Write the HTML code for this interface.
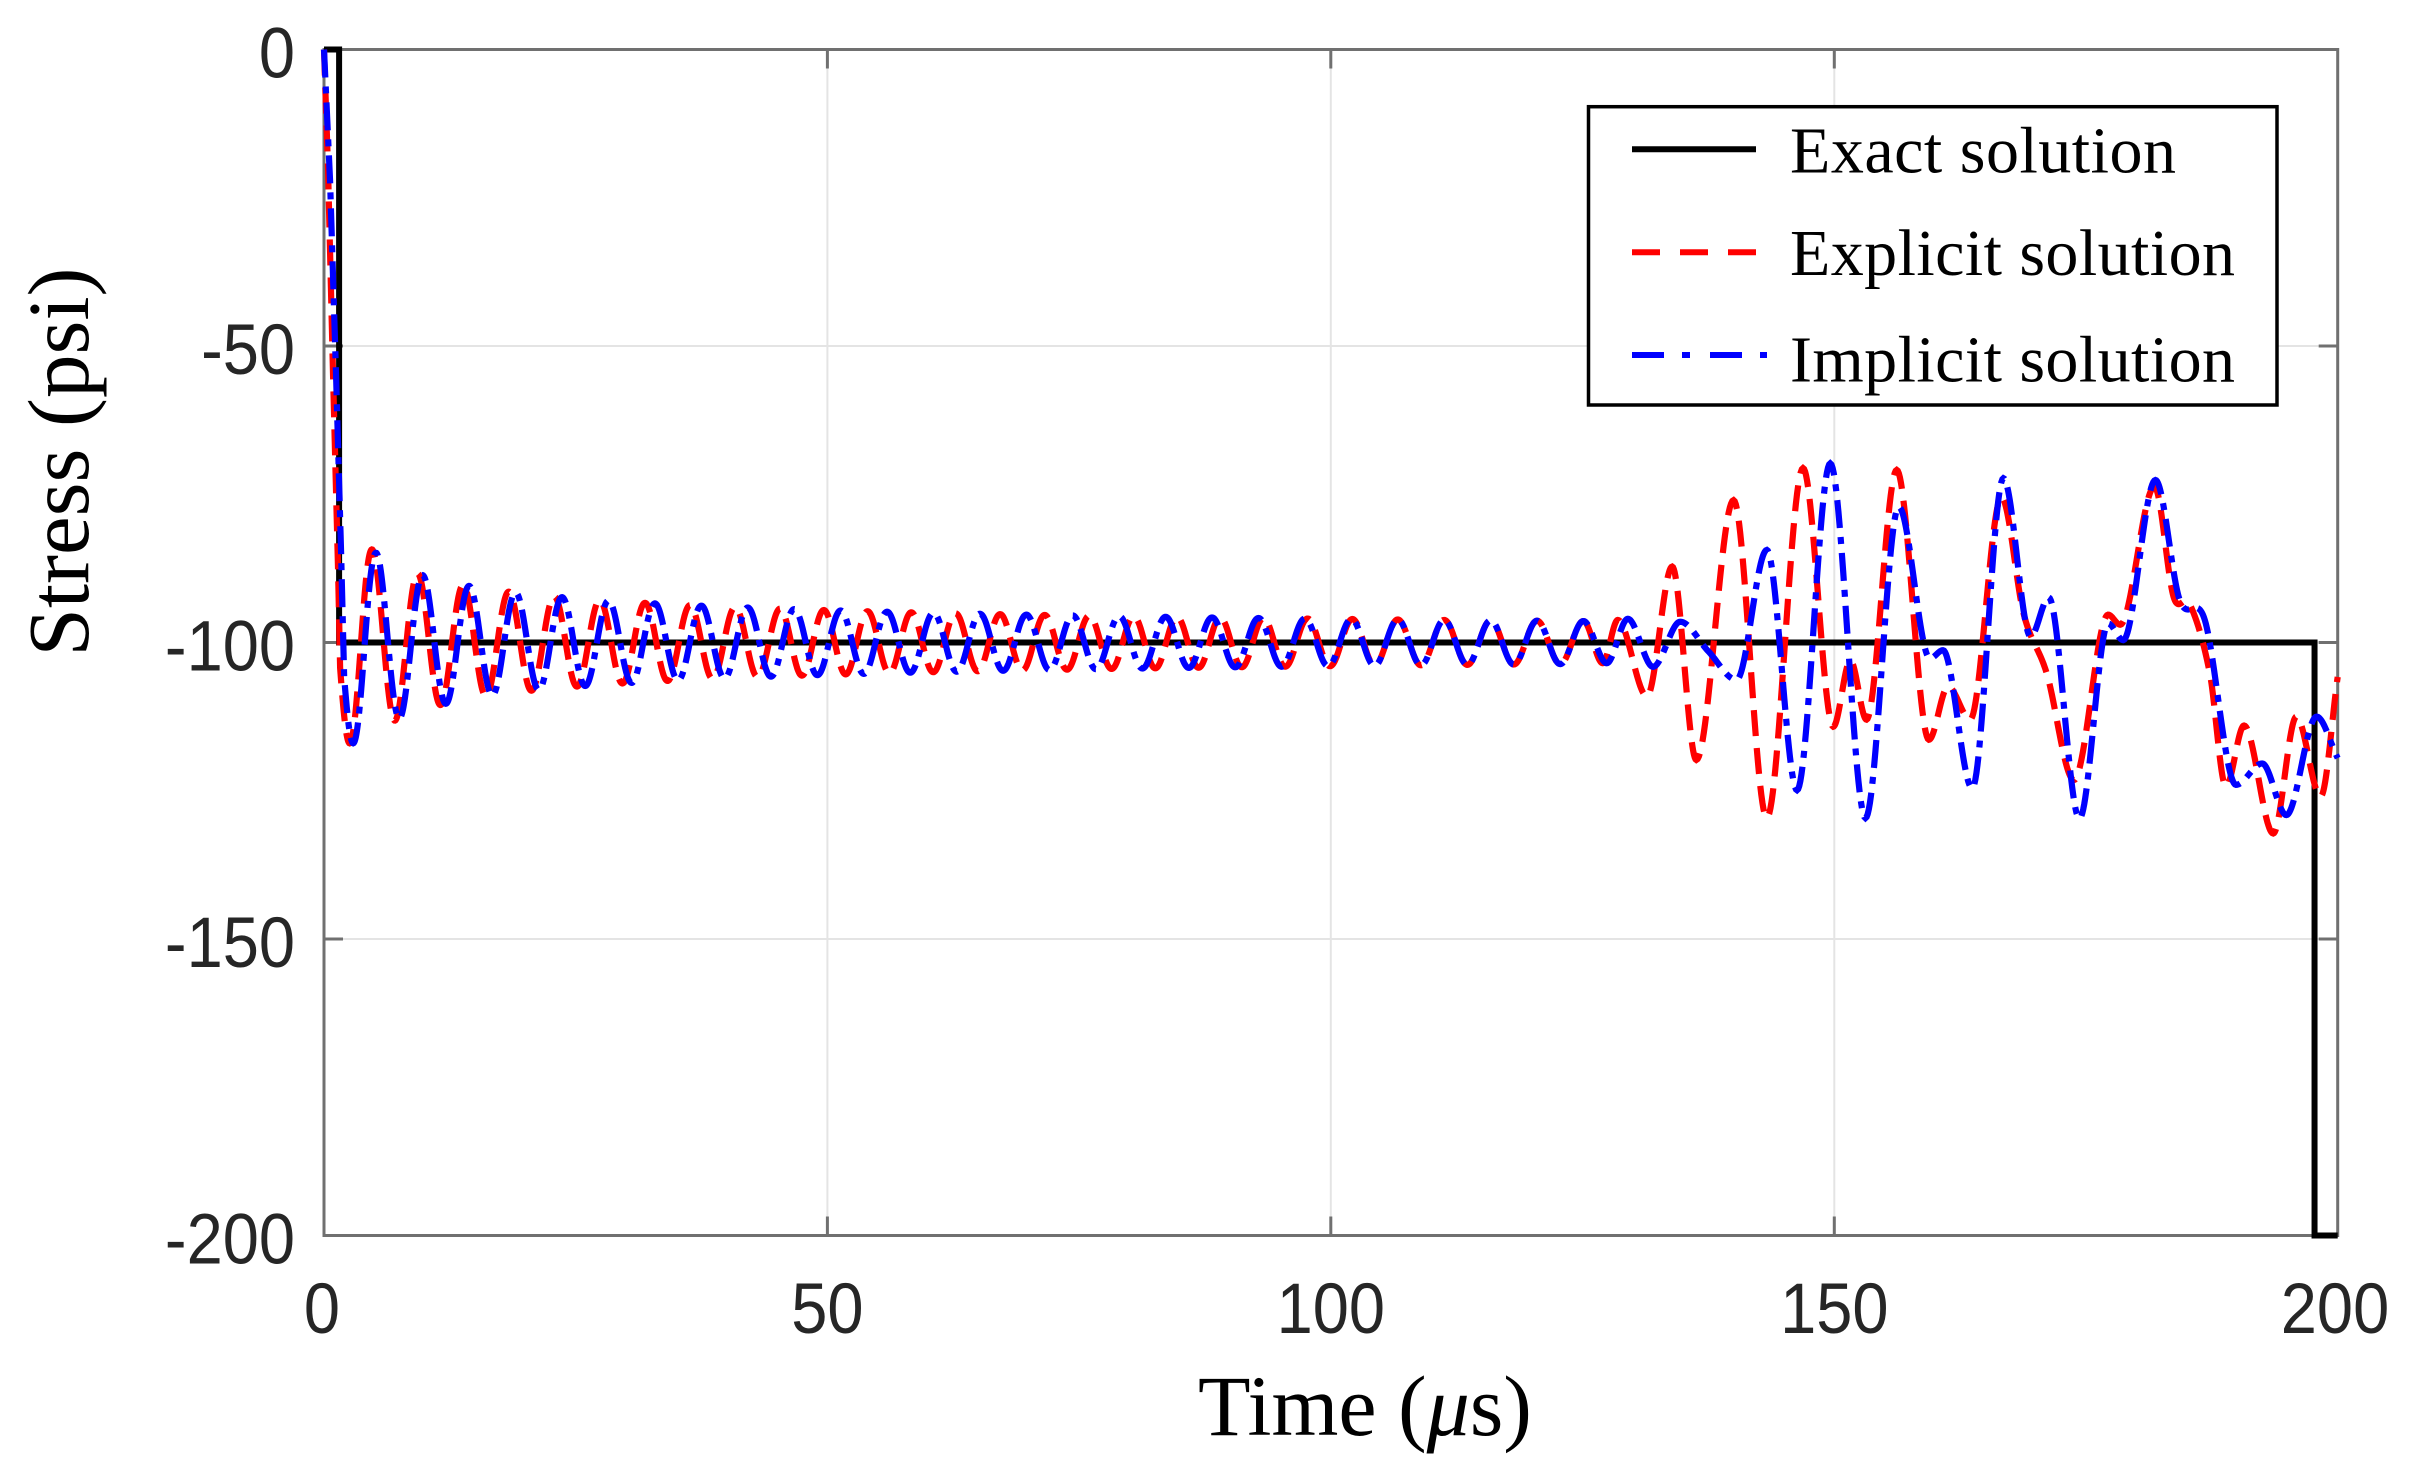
<!DOCTYPE html>
<html>
<head>
<meta charset="utf-8">
<style>
html,body{margin:0;padding:0;background:#fff;}
svg{display:block;}
</style>
</head>
<body>
<svg id="chart" width="2409" height="1476" viewBox="0 0 2409 1476" xmlns="http://www.w3.org/2000/svg">
<rect x="0" y="0" width="2409" height="1476" fill="#ffffff"/>
<!-- grid -->
<g stroke="#e4e4e4" stroke-width="2" fill="none">
  <line x1="827.4" y1="49.5" x2="827.4" y2="1235.5"/>
  <line x1="1330.8" y1="49.5" x2="1330.8" y2="1235.5"/>
  <line x1="1834.3" y1="49.5" x2="1834.3" y2="1235.5"/>
  <line x1="324" y1="346" x2="2337.7" y2="346"/>
  <line x1="324" y1="642.5" x2="2337.7" y2="642.5"/>
  <line x1="324" y1="939" x2="2337.7" y2="939"/>
</g>
<!-- axes box -->
<rect x="324" y="49.5" width="2013.7" height="1186" fill="none" stroke="#707070" stroke-width="3"/>
<!-- ticks -->
<g stroke="#707070" stroke-width="3">
  <line x1="827.4" y1="1235.5" x2="827.4" y2="1216.5"/>
  <line x1="1330.8" y1="1235.5" x2="1330.8" y2="1216.5"/>
  <line x1="1834.3" y1="1235.5" x2="1834.3" y2="1216.5"/>
  <line x1="827.4" y1="49.5" x2="827.4" y2="68.5"/>
  <line x1="1330.8" y1="49.5" x2="1330.8" y2="68.5"/>
  <line x1="1834.3" y1="49.5" x2="1834.3" y2="68.5"/>
  <line x1="324" y1="346" x2="343" y2="346"/>
  <line x1="324" y1="642.5" x2="343" y2="642.5"/>
  <line x1="324" y1="939" x2="343" y2="939"/>
  <line x1="2337.7" y1="346" x2="2318.7" y2="346"/>
  <line x1="2337.7" y1="642.5" x2="2318.7" y2="642.5"/>
  <line x1="2337.7" y1="939" x2="2318.7" y2="939"/>
</g>
<!-- tick labels -->
<g font-family="'Liberation Sans', Arial, sans-serif" font-size="65" fill="#262626">
  <text text-anchor="end" transform="translate(295,77.5) scale(1,1.1)">0</text>
  <text text-anchor="end" transform="translate(295,374) scale(1,1.1)">-50</text>
  <text text-anchor="end" transform="translate(295,670.5) scale(1,1.1)">-100</text>
  <text text-anchor="end" transform="translate(295,967) scale(1,1.1)">-150</text>
  <text text-anchor="end" transform="translate(295,1263.5) scale(1,1.1)">-200</text>
  <text text-anchor="middle" transform="translate(322,1333) scale(1,1.1)">0</text>
  <text text-anchor="middle" transform="translate(827.4,1333) scale(1,1.1)">50</text>
  <text text-anchor="middle" transform="translate(1330.8,1333) scale(1,1.1)">100</text>
  <text text-anchor="middle" transform="translate(1834.3,1333) scale(1,1.1)">150</text>
  <text text-anchor="middle" transform="translate(2335,1333) scale(1,1.1)">200</text>
</g>
<!-- axis labels -->
<text font-family="'Liberation Serif', 'Times New Roman', serif" font-size="87" fill="#000" text-anchor="middle" transform="translate(88,462) rotate(-90)">Stress (psi)</text>
<text font-family="'Liberation Serif', 'Times New Roman', serif" font-size="86" fill="#000" text-anchor="middle" x="1365" y="1435">Time (<tspan font-style="italic">μ</tspan>s)</text>

<!-- data -->
<path id="exact" fill="none" stroke="#000" stroke-width="6" stroke-linejoin="miter" d=""/>
<path id="red" fill="none" stroke="#ff0000" stroke-width="6.2" stroke-dasharray="26 12" d=""/>
<path id="blue" fill="none" stroke="#0000ff" stroke-width="6.2" stroke-dasharray="28 9 7 9" d=""/>

<!-- legend -->
<rect x="1588.5" y="106.7" width="688.5" height="298.3" fill="#fff" stroke="#000" stroke-width="3.5"/>
<line x1="1632" y1="149.3" x2="1756" y2="149.3" stroke="#000" stroke-width="6"/>
<line x1="1632" y1="252.3" x2="1758" y2="252.3" stroke="#ff0000" stroke-width="6" stroke-dasharray="28 20"/>
<line x1="1632" y1="355" x2="1767" y2="355" stroke="#0000ff" stroke-width="6" stroke-dasharray="32 18 8 20"/>
<g font-family="'Liberation Serif', 'Times New Roman', serif" font-size="66" fill="#000">
  <text x="1790" y="172.7" textLength="386" lengthAdjust="spacing">Exact solution</text>
  <text x="1790" y="275" textLength="445" lengthAdjust="spacing">Explicit solution</text>
  <text x="1790" y="381.7" textLength="445" lengthAdjust="spacing">Implicit solution</text>
</g>
</svg>
<script>
(function(){
  var X=function(t){return 324+t*10.0685;};
  var Y=function(s){return 49.5-s*5.93;};
  var P=4.611;
  function A(t){var tt=Math.max(t,4);return 17*Math.pow(tt/4,-0.45);}
  function blueF(t){return -100-A(t)*Math.cos(2*Math.PI*(t-2.9)/P);}
  var dT=[[0,0.065],[30,0.2],[45,0.3],[60,0.5],[80,0.68],[95,0.92],[105,1.0],[200,1.0]];
  function interp(tab,t){
    for(var i=0;i<tab.length-1;i++){
      if(t<=tab[i+1][0]){var f=(t-tab[i][0])/(tab[i+1][0]-tab[i][0]);return tab[i][1]+f*(tab[i+1][1]-tab[i][1]);}
    }
    return tab[tab.length-1][1];
  }
  function redF(t){return -100-A(t)*Math.cos(2*Math.PI*((t-2.9)/P+interp(dT,t)));}
  function herm(pts,n){
    var out=[],N=pts.length,m=[];
    for(var i=0;i<N;i++){
      if(i===0||i===N-1){
        if(i===N-1){m.push((pts[i][1]-pts[i-1][1])/(pts[i][0]-pts[i-1][0]));}
        else m.push(0);
        continue;
      }
      var a=pts[i-1][1],b=pts[i][1],c=pts[i+1][1];
      if((b>a&&b>c)||(b<a&&b<c)) m.push(0);
      else m.push((c-a)/(pts[i+1][0]-pts[i-1][0]));
    }
    for(var i=0;i<N-1;i++){
      var t1=pts[i][0],t2=pts[i+1][0],s1=pts[i][1],s2=pts[i+1][1],h=t2-t1;
      for(var k=(i===0?0:1);k<=n;k++){
        var u=k/n,u2=u*u,u3=u2*u;
        var h00=2*u3-3*u2+1,h10=u3-2*u2+u,h01=-2*u3+3*u2,h11=u3-u2;
        out.push([t1+u*h,h00*s1+h10*h*m[i]+h01*s2+h11*h*m[i+1]]);
      }
    }
    return out;
  }
  function toPath(arr){
    var d='';
    for(var i=0;i<arr.length;i++){
      d+=(i===0?'M':'L')+X(arr[i][0]).toFixed(2)+','+Y(arr[i][1]).toFixed(2);
    }
    return d;
  }
  // blue
  var b=[[0,0],[0.6,-22],[1.2,-55],[1.7,-85]];
  for(var t=2.0;t<125.1;t+=0.05){b.push([t,blueF(t)]);}
  var bt=[[125.1,blueF(125.1)],[127.4,-103.5],[129.5,-96],[132.0,-104.1],[134.7,-96.5],[137.5,-101.5],[140.3,-106.3],[143.3,-84.4],[146.3,-124.9],[149.6,-69.8],[153.1,-129.6],[156.4,-77.1],[159.5,-102.7],[160.8,-101.3],[163.7,-124.6],[166.8,-72.3],[169.5,-99.0],[171.3,-92.4],[174.35,-129.7],[177.2,-96.8],[178.7,-99.6],[181.9,-72.6],[184.3,-92.8],[186.8,-96.2],[189.9,-124],[192.5,-120.4],[194.9,-129.1],[197.9,-112.5],[200,-119.5]];
  b=b.concat(herm(bt,30));
  // red
  var r=[[0,0],[0.4,-20],[0.9,-55],[1.4,-88]];
  for(var t=1.6;t<125.1;t+=0.05){r.push([t,redF(t)]);}
  var rt=[[125.1,redF(125.1)],[127.0,-103.5],[128.5,-96.2],[131.4,-109.1],[133.9,-87.2],[136.3,-119.8],[140.0,-76.0],[143.3,-129.6],[146.9,-70.6],[149.9,-114.2],[151.6,-103],[153.2,-113],[156.2,-70.9],[159.4,-116.4],[161.3,-107.4],[163.5,-113],[166.6,-75.5],[168.8,-95.1],[171.1,-105.2],[173.8,-123.2],[177.2,-95.3],[178.4,-97],[181.8,-73.7],[183.7,-92.3],[185.3,-93.5],[187.3,-105.2],[188.9,-124.3],[190.7,-114],[193.6,-132.2],[195.9,-112.5],[198.3,-126],[200,-105.8]];
  r=r.concat(herm(rt,30));
  document.getElementById('blue').setAttribute('d',toPath(b));
  document.getElementById('red').setAttribute('d',toPath(r));
  var e='M'+X(0)+','+Y(0)+'L'+X(1.5)+','+Y(0)+'L'+X(1.5)+','+Y(-100)+'L'+X(197.7)+','+Y(-100)+'L'+X(197.7)+','+Y(-200)+'L'+X(200)+','+Y(-200);
  document.getElementById('exact').setAttribute('d',e);
})();
</script>
</body>
</html>
